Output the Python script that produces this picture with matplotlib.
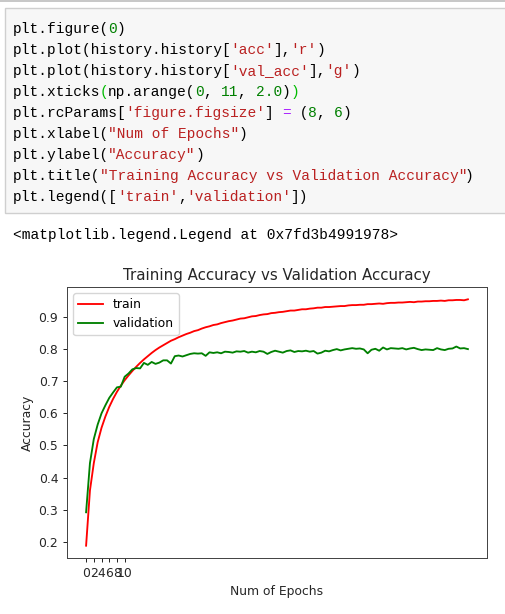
import numpy as np
import matplotlib.pyplot as plt
from matplotlib.patches import Rectangle
from matplotlib.lines import Line2D

# accuracy per epoch
train_acc = [0.188, 0.36, 0.445, 0.51, 0.555, 0.59, 0.62, 0.645, 0.667, 0.686,
             0.703, 0.718, 0.732, 0.745, 0.757, 0.768, 0.778, 0.788, 0.797, 0.805,
             0.812, 0.819, 0.826, 0.831, 0.837, 0.842, 0.847, 0.851, 0.856, 0.859,
             0.864, 0.868, 0.871, 0.875, 0.877, 0.881, 0.884, 0.887, 0.889, 0.892,
             0.895, 0.896, 0.899, 0.902, 0.903, 0.906, 0.908, 0.909, 0.912, 0.913,
             0.915, 0.916, 0.918, 0.920, 0.920, 0.922, 0.924, 0.924, 0.926, 0.927,
             0.929, 0.929, 0.931, 0.931, 0.932, 0.933, 0.934, 0.934, 0.936, 0.937,
             0.937, 0.938, 0.938, 0.940, 0.940, 0.941, 0.942, 0.941, 0.943, 0.944,
             0.944, 0.945, 0.945, 0.946, 0.947, 0.946, 0.948, 0.948, 0.949, 0.949,
             0.950, 0.950, 0.951, 0.950, 0.952, 0.952, 0.953, 0.953, 0.952, 0.955]
val_acc = [0.292, 0.445, 0.52, 0.565, 0.60, 0.625, 0.648, 0.665, 0.681, 0.683,
           0.714, 0.724, 0.737, 0.741, 0.740, 0.757, 0.751, 0.760, 0.754, 0.758,
           0.765, 0.765, 0.755, 0.778, 0.780, 0.777, 0.781, 0.785, 0.787, 0.786,
           0.787, 0.779, 0.790, 0.788, 0.790, 0.787, 0.792, 0.791, 0.789, 0.793,
           0.792, 0.794, 0.789, 0.792, 0.790, 0.794, 0.792, 0.785, 0.791, 0.795,
           0.792, 0.789, 0.794, 0.796, 0.791, 0.794, 0.793, 0.795, 0.792, 0.794,
           0.786, 0.789, 0.795, 0.793, 0.797, 0.800, 0.796, 0.799, 0.801, 0.803,
           0.801, 0.802, 0.799, 0.787, 0.798, 0.801, 0.795, 0.805, 0.799, 0.803,
           0.802, 0.801, 0.803, 0.799, 0.802, 0.804, 0.800, 0.797, 0.799, 0.798,
           0.797, 0.803, 0.799, 0.797, 0.801, 0.802, 0.808, 0.802, 0.803, 0.800]
legend_labels = ['train', 'validation']

# notebook cell source, as (text, colour) pieces per line
K = 'black'
S = '#BA2121'   # strings
N = '#008000'   # numbers
B = '#00bb00'   # matched bracket
O = '#AA22FF'   # operator
code_lines = [
    [("plt.figure(", K), ("0", N), (")", K)],
    [("plt.plot(history.history[", K), ("'acc'", S), ("],", K), ("'r'", S), (")", K)],
    [("plt.plot(history.history[", K), ("'val_acc'", S), ("],", K), ("'g'", S), (")", K)],
    [("plt.xticks", K), ("(", B), ("np.arange(", K), ("0", N), (", ", K), ("11", N),
     (", ", K), ("2.0", N), (")", K), (")", B)],
    [("plt.rcParams[", K), ("'figure.figsize'", S), ("] ", K), ("=", O), (" (", K),
     ("8", N), (", ", K), ("6", N), (")", K)],
    [("plt.xlabel(", K), ('"Num of Epochs"', S), (")", K)],
    [("plt.ylabel(", K), ('"Accuracy"', S), (")", K)],
    [("plt.title(", K), ('"Training Accuracy vs Validation Accuracy"', S), (")", K)],
    [("plt.legend([", K), ("'train'", S), (",", K), ("'validation'", S), ("])", K)],
]
output_line = "<matplotlib.legend.Legend at 0x7fd3b4991978>"

W, H = 506, 614
fig = plt.figure(figsize=(W / 100, H / 100), dpi=100)


def fx(x):
    return x / W


def fy(y):
    return 1 - y / H


# notebook chrome
fig.lines.append(Line2D([0, 1], [fy(0.8), fy(0.8)], color='#bdbdbd', lw=1.2,
                        transform=fig.transFigure))
fig.patches.append(Rectangle((fx(5.3), fy(213.3)), fx(520), (213.3 - 8.3) / H,
                             facecolor='#f7f7f7', edgecolor='#cfcfcf', lw=1,
                             transform=fig.transFigure))

charw = 8.68
fsize = charw / 0.6 * 0.72
for i, pieces in enumerate(code_lines):
    col = 0
    base = 33.3 + 21 * i
    for txt, c in pieces:
        fig.text(fx(12.8 + col * charw), fy(base), txt, color=c, family='Liberation Mono',
                 fontsize=fsize, va='baseline', ha='left')
        col += len(txt)
fig.text(fx(12.8), fy(239), output_line, color='black', family='Liberation Mono',
         fontsize=fsize, va='baseline', ha='left')

# the chart itself (scaled down old-style matplotlib output)
sc = 0.89
ax = fig.add_axes([fx(67), fy(558), 420 / W, 271 / H])
ax.plot(train_acc, 'r', lw=1.5 * sc)
ax.plot(val_acc, 'g', lw=1.5 * sc)
ax.set_xticks(np.arange(0, 11, 2.0))
ax.set_xlabel("Num of Epochs", fontsize=10 * sc, color='#262626', labelpad=4 * sc)
ax.set_ylabel("Accuracy", fontsize=10 * sc, color='#262626', labelpad=4 * sc)
ax.set_title("Training Accuracy vs Validation Accuracy", fontsize=12 * 0.9,
             color='#262626', pad=6 * sc)
ax.legend(legend_labels, loc='upper left', fontsize=10 * sc, fancybox=True,
          framealpha=0.8, edgecolor='0.8')
ax.tick_params(labelsize=10 * sc, length=3.5 * sc, width=0.8 * sc,
               colors='#262626', pad=3.5 * sc)
for s in ax.spines.values():
    s.set_linewidth(0.8 * sc)
    s.set_edgecolor('#444444')

fig.savefig('out.png', dpi=100)
